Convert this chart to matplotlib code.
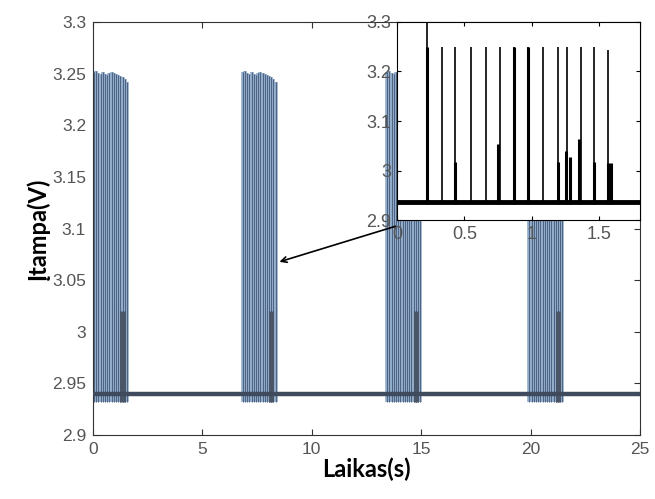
import matplotlib.pyplot as plt

# Main signal: four bursts of spikes on a 2.94 V baseline
baseline = 2.94
burst_starts = [0.0, 6.8, 13.4, 19.9]
spike_offsets = [0.05, 0.15, 0.25, 0.35, 0.45, 0.55, 0.65, 0.75, 0.85, 0.95,
                 1.05, 1.15, 1.25, 1.35, 1.45, 1.55]
spike_heights = [3.252, 3.253, 3.251, 3.250, 3.252, 3.250, 3.249, 3.251, 3.252,
                 3.251, 3.250, 3.249, 3.248, 3.247, 3.245, 3.242]
low_offsets = [1.3, 1.4]
low_heights = [3.02, 3.02]

# Inset: zoom of one burst
inset_times = [0.222, 0.333, 0.433, 0.545, 0.662, 0.761, 0.866, 0.968, 1.080,
               1.192, 1.259, 1.366, 1.457, 1.560]
inset_heights = [3.32, 3.25, 3.25, 3.25, 3.25, 3.25, 3.25, 3.25, 3.25,
                 3.25, 3.25, 3.25, 3.25, 3.243]
inset_low_times = [0.222, 0.433, 0.75, 0.866, 0.968, 1.19, 1.25, 1.28, 1.35, 1.46, 1.565, 1.585]
inset_low_heights = [3.25, 3.017, 3.054, 3.25, 3.25, 3.017, 3.04, 3.027, 3.063, 3.017, 3.015, 3.015]

light = '#90abc9'
dark = '#3f4a5c'
tickc = '#555555'

fig = plt.figure(figsize=(6.55, 4.99), dpi=100)
ax = fig.add_axes([0.142, 0.128, 0.835, 0.828])

for start in burst_starts:
    xs = [start + o for o in spike_offsets]
    ax.vlines(xs, 2.932, spike_heights, color=light, linewidth=2.6, zorder=2)
    ax.vlines(xs, 2.932, spike_heights, color='#4d6280', linewidth=0.7, zorder=3)
    ax.vlines([start + o for o in low_offsets], 2.932, low_heights, color='#4a5568',
              linewidth=2.2, zorder=3)
ax.plot([0, 25], [baseline, baseline], color=dark, linewidth=3.2, zorder=4)

ax.set_xlim(0, 25)
ax.set_ylim(2.9, 3.3)
ax.set_xticks([0, 5, 10, 15, 20, 25])
yt = [2.9, 2.95, 3.0, 3.05, 3.1, 3.15, 3.2, 3.25, 3.3]
ax.set_yticks(yt)
ax.set_yticklabels(['2.9', '2.95', '3', '3.05', '3.1', '3.15', '3.2', '3.25', '3.3'])
ax.tick_params(direction='in', top=True, right=True, length=4, labelsize=12.5,
               labelcolor=tickc, colors='#333333', pad=5)
for lbl in ax.get_xticklabels() + ax.get_yticklabels():
    lbl.set_family('Liberation Sans')
for s in ax.spines.values():
    s.set_color('#333333')
ax.set_xlabel('Laikas(s)', fontsize=17, fontweight='bold', family='Lato', labelpad=0)
ax.set_ylabel('Įtampa(V)', fontsize=17, fontweight='bold', family='Lato', labelpad=2)

ax.annotate('', xy=(8.4, 3.067), xytext=(13.95, 3.103),
            arrowprops=dict(arrowstyle='->', color='black', lw=1.2), zorder=6)

# Inset
ins = fig.add_axes([0.606, 0.559, 0.371, 0.397])
ins.set_facecolor('white')
ins.vlines(inset_times, 2.932, inset_heights, color='black', linewidth=1.2)
ins.vlines(inset_low_times, 2.932, inset_low_heights, color='black', linewidth=2.2)
ins.plot([0, 1.8], [2.936, 2.936], color='black', linewidth=3.5)
ins.set_xlim(0, 1.8)
ins.set_ylim(2.9, 3.3)
ins.set_xticks([0, 0.5, 1, 1.5])
ins.set_xticklabels(['0', '0.5', '1', '1.5'])
ins.set_yticks([2.9, 3.0, 3.1, 3.2, 3.3])
ins.set_yticklabels(['2.9', '3', '3.1', '3.2', '3.3'])
ins.tick_params(direction='in', top=True, right=True, length=3, labelsize=13,
                labelcolor=tickc, pad=4)
for lbl in ins.get_xticklabels() + ins.get_yticklabels():
    lbl.set_family('Liberation Sans')

fig.savefig('out.png', dpi=100)
